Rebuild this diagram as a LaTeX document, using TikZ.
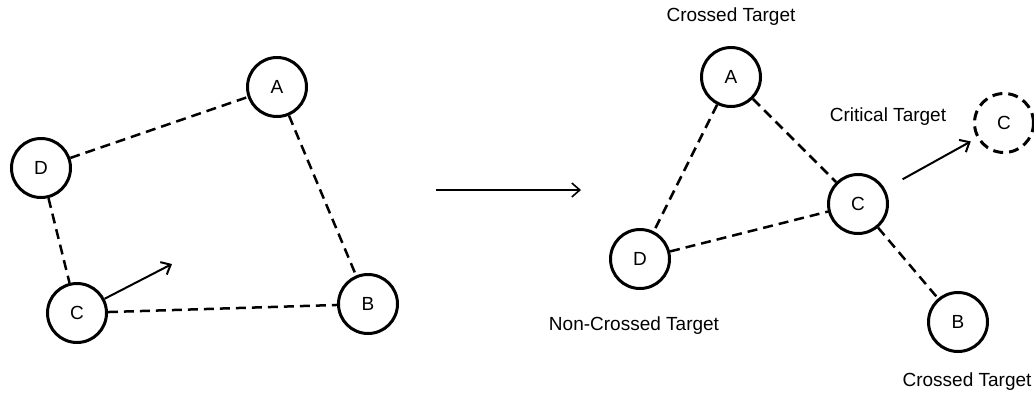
\documentclass[tikz,border=0pt]{standalone}
\usepackage{fontspec}
\setmainfont{Liberation Sans}
\usetikzlibrary{arrows.meta}

\begin{document}
\begin{tikzpicture}[
  x=1pt,y=-1pt,
  font=\fontsize{19}{21}\selectfont,
  >={Straight Barb[length=8pt,width=14pt]},
  tgt/.style={draw,circle,line width=3pt,minimum size=59pt,inner sep=0pt},
  ghost/.style={tgt,dash pattern=on 10pt off 6pt},
  link/.style={dashed,line width=2.5pt,dash pattern=on 10pt off 6pt},
  move/.style={->,line width=2pt},
]
  \useasboundingbox (0,0) rectangle (1034,394);

  % before: four targets
  \node[tgt] (lA) at (277,87)  {A};
  \node[tgt] (lD) at (41,168)  {D};
  \node[tgt] (lC) at (77,313)  {C};
  \node[tgt] (lB) at (368,304) {B};
  \coordinate (lgo) at (172,264);

  \draw[link] (lD) -- (lA);
  \draw[link] (lA) -- (lB);
  \draw[link] (lD) -- (lC);
  \draw[link] (lC) -- (lB);
  \draw[move] (lC) -- (lgo);

  % transition
  \coordinate (t0) at (436,190);
  \coordinate (t1) at (581,190);
  \draw[->,line width=1.6pt] (t0) -- (t1);

  % after: C has moved between the others
  \node[tgt] (rA) at (731,77)  {A};
  \node[tgt] (rC) at (858,204) {C};
  \node[tgt] (rD) at (640,259) {D};
  \node[tgt] (rB) at (958,322) {B};
  \node[ghost] (rC2) at (1004,123) {C};

  \draw[link] (rA) -- (rD);
  \draw[link] (rA) -- (rC);
  \draw[link] (rD) -- (rC);
  \draw[link] (rC) -- (rB);
  \draw[move,shorten <=20pt,shorten >=7pt] (rC) -- (rC2);

  \node (capA) at (731,17)  {Crossed Target};
  \node (capC) at (888,117) {Critical Target};
  \node (capD) at (634,326) {Non-Crossed Target};
  \node (capB) at (967,382) {Crossed Target};
\end{tikzpicture}
\end{document}
